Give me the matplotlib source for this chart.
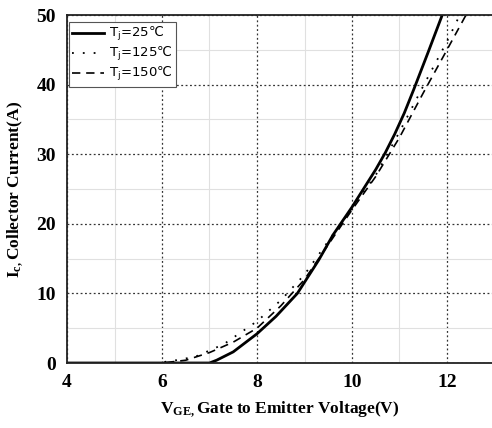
import matplotlib
matplotlib.use("Agg")
import matplotlib.pyplot as plt
from matplotlib.ticker import MultipleLocator

plt.rcParams['mathtext.default'] = 'regular'

# Data
x25 = [4.0, 7.0, 7.15, 7.5, 8.0, 8.4, 8.85, 9.3, 9.6, 10.0, 10.5, 10.7, 10.9, 11.1, 11.3, 11.6, 11.9]
i25 = [0.0, 0.0, 0.4, 1.6, 4.2, 6.7, 10.0, 14.8, 18.4, 22.4, 27.8, 30.2, 32.9, 35.9, 39.3, 44.6, 50.0]

x125 = [4.0, 5.9, 6.3, 6.7, 7.3, 8.0, 8.5, 9.0, 9.5, 10.0, 10.5, 11.0, 11.5, 12.0, 12.27]
i125 = [0.0, 0.0, 0.4, 0.9, 2.7, 6.0, 9.0, 12.7, 17.5, 22.2, 27.0, 33.2, 39.8, 46.2, 50.0]

x150 = [4.0, 6.0, 6.5, 7.0, 7.5, 8.0, 8.5, 9.0, 9.5, 10.0, 10.5, 11.0, 11.5, 12.0, 12.4]
i150 = [0.0, 0.0, 0.4, 1.5, 3.0, 5.0, 8.2, 12.0, 17.0, 22.0, 26.8, 32.4, 38.8, 45.0, 50.0]

labels = ['T$_j$=25\u2103', 'T$_j$=125\u2103', 'T$_j$=150\u2103']
xticks = [4, 6, 8, 10, 12]
yticks = [0, 10, 20, 30, 40, 50]

fig = plt.figure(figsize=(4.92, 4.28), dpi=100)
ax = fig.add_axes([67/492, 1-363/428, 1-67/492, (363-15)/428])

serif = 'Liberation Serif'

ax.plot(x25, i25, color='black', lw=2.0, ls='-', label=labels[0])
ax.plot(x125, i125, color='black', lw=1.3, ls=(0, (1.0, 5.0)), label=labels[1])
ax.plot(x150, i150, color='black', lw=1.2, ls=(0, (5, 3.5)), label=labels[2])

ax.set_xlim(4, 4 + (492-67)/47.5)
ax.set_ylim(0, 50)
ax.set_xticks(xticks)
ax.set_yticks(yticks)
ax.xaxis.set_minor_locator(MultipleLocator(1))
ax.yaxis.set_minor_locator(MultipleLocator(5))
ax.grid(which='major', color='#333333', ls=(0, (1.5, 2)), lw=0.9)
ax.grid(which='minor', color='#e0e0e0', ls='-', lw=0.8)
ax.set_axisbelow(True)
ax.tick_params(which='both', length=0)
ax.tick_params(axis='x', pad=8)
ax.tick_params(axis='y', pad=8)
for lab in ax.get_xticklabels() + ax.get_yticklabels():
    lab.set_fontfamily(serif)
    lab.set_fontweight('bold')
    lab.set_fontsize(14)

for s in ['left', 'bottom', 'top']:
    ax.spines[s].set_color('#222222')
    ax.spines[s].set_linewidth(1.3)
ax.spines['right'].set_visible(False)

ax.set_xlabel('V$_{GE,}$Gate to Emitter Voltage(V)', fontfamily=serif,
              fontweight='bold', fontsize=12.5, labelpad=6)
ax.set_ylabel('I$_{c,}$Collector Current(A)', fontfamily=serif,
              fontweight='bold', fontsize=12.5, labelpad=8)

leg = ax.legend(loc='upper left', bbox_to_anchor=(2/425, 1-7/348),
                prop={'family': 'DejaVu Sans', 'size': 9.5},
                frameon=True, fancybox=False, edgecolor='#555555',
                borderaxespad=0.0, handlelength=2.4, handletextpad=0.38,
                labelspacing=0.15, borderpad=0.25)
leg.get_frame().set_linewidth(0.8)
leg.get_frame().set_alpha(1.0)

fig.savefig('out.png', dpi=100)
